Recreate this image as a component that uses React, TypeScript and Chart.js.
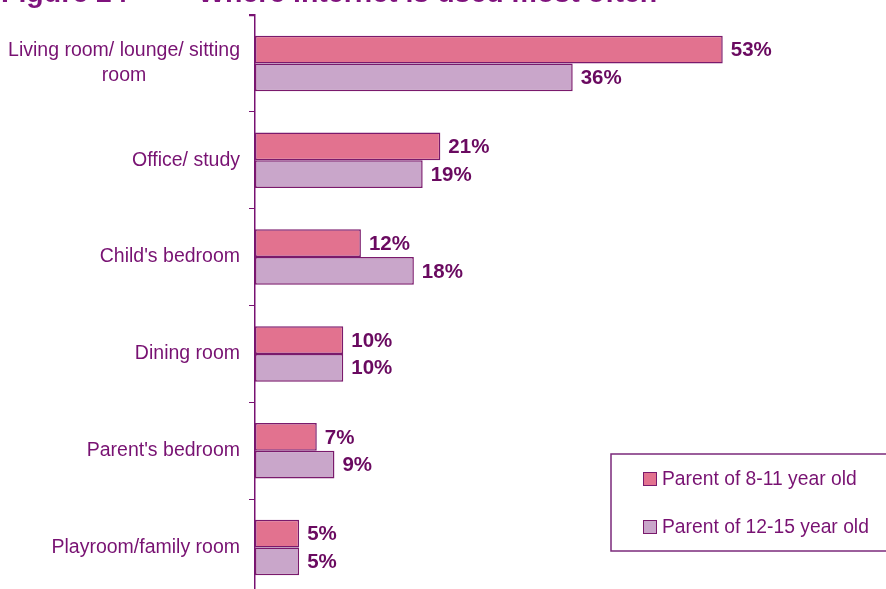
import React, { useEffect, useRef } from "react";
import { Chart, registerables } from "chart.js";

Chart.register(...registerables);

const categories: string[][] = [
  ["Living room/ lounge/ sitting", "room"],
  ["Office/ study"],
  ["Child's bedroom"],
  ["Dining room"],
  ["Parent's bedroom"],
  ["Playroom/family room"],
];
const seriesNames = ["Parent of 8-11 year old", "Parent of 12-15 year old"];
const parent8to11 = [53, 21, 12, 10, 7, 5];
const parent12to15 = [36, 19, 18, 10, 9, 5];
const titleLeft = "Figure 24";
const titleRight = "Where internet is used most often";

const PINK = "#E2728F";
const LAVENDER = "#C9A6CA";
const BORDER = "#7A1A6C";
const PURPLE = "#781272";
const LABEL_PURPLE = "#6A0A60";
const FONT = "'Liberation Sans', Arial, sans-serif";

const overlayPlugin = {
  id: "overlay",
  afterDraw(chart: any) {
    const ctx = chart.ctx as CanvasRenderingContext2D;
    const yScale = chart.scales.y;
    ctx.save();
    // title (partly cut off at top)
    ctx.fillStyle = "#7F137D";
    ctx.font = `bold 28.5px ${FONT}`;
    ctx.textAlign = "left";
    ctx.textBaseline = "alphabetic";
    ctx.fillText(titleLeft, 1, 1.5);
    ctx.fillText(titleRight, 198, 1.5);

    // top tick mark of the category axis
    ctx.strokeStyle = PURPLE;
    ctx.lineWidth = 1.5;
    ctx.beginPath();
    ctx.moveTo(249, yScale.top + 0.5);
    ctx.lineTo(yScale.right, yScale.top + 0.5);
    ctx.stroke();

    // category labels
    ctx.font = `19.5px ${FONT}`;
    ctx.fillStyle = PURPLE;
    ctx.textBaseline = "middle";
    const rightX = 240;
    const lineH = 25;
    categories.forEach((lines, i) => {
      const cy = yScale.getPixelForValue(i);
      const maxW = Math.max(...lines.map((l) => ctx.measureText(l).width));
      const startY = cy - ((lines.length - 1) * lineH) / 2;
      lines.forEach((l, j) => {
        if (lines.length > 1) {
          ctx.textAlign = "center";
          ctx.fillText(l, rightX - maxW / 2, startY + j * lineH);
        } else {
          ctx.textAlign = "right";
          ctx.fillText(l, rightX, startY + j * lineH);
        }
      });
    });

    // value labels
    ctx.font = `bold 20.5px ${FONT}`;
    ctx.fillStyle = LABEL_PURPLE;
    ctx.textAlign = "left";
    ctx.textBaseline = "middle";
    chart.data.datasets.forEach((ds: any, di: number) => {
      const meta = chart.getDatasetMeta(di);
      meta.data.forEach((bar: any, i: number) => {
        ctx.fillText(ds.data[i] + "%", bar.x + 8, bar.y + 1);
      });
    });

    // legend
    ctx.strokeStyle = "#7B2A7B";
    ctx.lineWidth = 1.5;
    ctx.strokeRect(611, 454, 290, 97);
    const legendColors = [PINK, LAVENDER];
    const legendY = [479, 527];
    ctx.font = `19.3px ${FONT}`;
    ctx.textAlign = "left";
    ctx.textBaseline = "middle";
    seriesNames.forEach((name, i) => {
      ctx.fillStyle = legendColors[i];
      ctx.fillRect(643, legendY[i] - 7, 14, 14);
      ctx.strokeStyle = BORDER;
      ctx.lineWidth = 1;
      ctx.strokeRect(643.5, legendY[i] - 6.5, 13, 13);
      ctx.fillStyle = PURPLE;
      ctx.fillText(name, 662, legendY[i] + 1);
    });
    ctx.restore();
  },
};

export default function App() {
  const ref = useRef<HTMLCanvasElement | null>(null);
  useEffect(() => {
    if (!ref.current) return;
    const chart = new Chart(ref.current, {
      type: "bar",
      data: {
        labels: categories.map((c) => c.join(" ")),
        datasets: [
          {
            label: seriesNames[0],
            data: parent8to11,
            backgroundColor: PINK,
            borderColor: BORDER,
            borderWidth: 1.5,
            borderSkipped: false,
          },
          {
            label: seriesNames[1],
            data: parent12to15,
            backgroundColor: LAVENDER,
            borderColor: BORDER,
            borderWidth: 1.5,
            borderSkipped: false,
          },
        ],
      },
      options: {
        indexAxis: "y",
        animation: false,
        responsive: false,
        maintainAspectRatio: false,
        events: [],
        layout: { padding: { top: 15, bottom: 0, left: 0, right: 0 } },
        datasets: { bar: { barPercentage: 1, categoryPercentage: 0.573 } },
        plugins: { legend: { display: false }, tooltip: { enabled: false }, title: { display: false } },
        scales: {
          x: { display: false, min: 0, max: 71.5 },
          y: {
            position: "left",
            offset: true,
            ticks: { display: false },
            grid: {
              display: true,
              drawOnChartArea: false,
              drawTicks: true,
              tickLength: 6,
              tickColor: PURPLE,
              offset: true,
            },
            border: { display: true, color: PURPLE, width: 1.5 },
            afterFit: (scale: any) => {
              scale.width = 255;
            },
          },
        },
      },
      plugins: [overlayPlugin],
    });
    return () => chart.destroy();
  }, []);
  return (
    <div
      style={{
        position: "fixed",
        left: 0,
        top: 0,
        width: 886,
        height: 589,
        overflow: "hidden",
        background: "#fff",
      }}
    >
      <canvas ref={ref} width={886} height={596} style={{ display: "block", width: 886, height: 596 }} />
    </div>
  );
}
